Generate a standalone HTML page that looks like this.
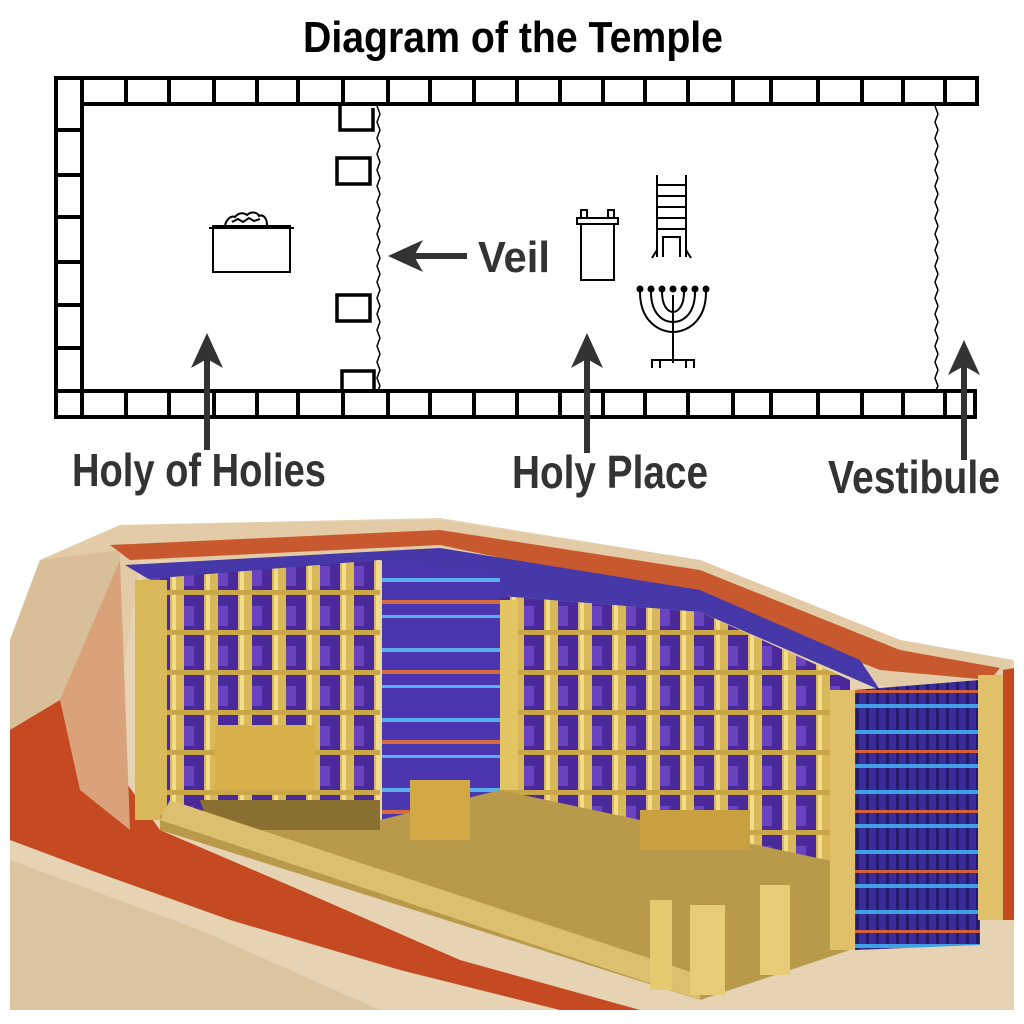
<!DOCTYPE html>
<html><head><meta charset="utf-8"><style>
html,body{margin:0;padding:0;background:#fff}
svg{display:block}
.t{font-family:"Liberation Sans Narrow","Liberation Sans",sans-serif;font-weight:bold}
</style></head><body>
<svg width="1024" height="1024" viewBox="0 0 1024 1024" xmlns="http://www.w3.org/2000/svg">
<defs>
<pattern id="grid" x="0" y="0" width="34" height="40" patternUnits="userSpaceOnUse">
<rect width="34" height="40" fill="#4a2a9a"/>
<rect x="0" y="0" width="14" height="40" fill="#d9b85a"/>
<rect x="2" y="0" width="4" height="40" fill="#f3dc8a"/>
<rect x="0" y="30" width="34" height="5" fill="#c9a648"/>
<rect x="14" y="6" width="10" height="20" fill="#6a44c0"/>
</pattern>
<pattern id="curt" x="0" y="0" width="10" height="60" patternUnits="userSpaceOnUse">
<rect width="10" height="60" fill="#3b2a9a"/>
<rect x="6" width="3" height="60" fill="#241a6a"/>
<rect y="10" width="10" height="4" fill="#3fa0e6"/>
<rect y="30" width="10" height="3" fill="#d0603a"/>
<rect y="44" width="10" height="4" fill="#3fa0e6"/>
</pattern>
<pattern id="veil" x="0" y="0" width="120" height="70" patternUnits="userSpaceOnUse">
<rect width="120" height="70" fill="#4b36b0"/>
<rect y="18" width="120" height="4" fill="#5ab0ee"/>
<rect y="40" width="120" height="4" fill="#d86a40"/>
<rect y="55" width="120" height="3" fill="#5ab0ee"/>
</pattern>
</defs>

<!-- Title -->
<text class="t" x="513" y="52" font-size="44" text-anchor="middle" textLength="420" lengthAdjust="spacingAndGlyphs" fill="#000">Diagram of the Temple</text>

<!-- walls -->
<g fill="#fff" stroke="#000" stroke-width="4">
<rect x="56" y="78" width="921" height="26"/>
<rect x="56" y="391" width="919" height="26"/>
<rect x="56" y="78" width="26" height="339"/>
</g>
<g stroke="#000" stroke-width="4">
<path d="M126 78v26M169 78v26M214 78v26M257 78v26M298 78v26M343 78v26M388 78v26M430 78v26M474 78v26M517 78v26M560 78v26M603 78v26M645 78v26M688 78v26M733 78v26M771 78v26M818 78v26M862 78v26M903 78v26M945 78v26"/>
<path d="M126 391v26M169 391v26M214 391v26M257 391v26M298 391v26M343 391v26M388 391v26M430 391v26M474 391v26M517 391v26M560 391v26M603 391v26M645 391v26M688 391v26M733 391v26M771 391v26M818 391v26M862 391v26M903 391v26M945 391v26"/>
<path d="M56 130h26M56 175h26M56 217h26M56 262h26M56 305h26M56 348h26M56 391h26"/>
</g>
<g fill="none" stroke="#000" stroke-width="3.5">
<path d="M373 108v22h-33v-24"/>
<rect x="337" y="158" width="33" height="26"/>
<rect x="337" y="295" width="33" height="26"/>
<path d="M342 391v-20h32v20"/>
</g>
<g fill="none" stroke="#000" stroke-width="1.5">
<path d="M377 106 l3 8 -3 8 3 8 -3 8 3 8 -3 8 3 8 -3 8 3 8 -3 8 3 8 -3 8 3 8 -3 8 3 8 -3 8 3 8 -3 8 3 8 -3 8 3 8 -3 8 3 8 -3 8 3 8 -3 8 3 8 -3 8 3 8 -3 8 3 8 -3 8 3 8 -3 8 3 8 -3 6"/>
<path d="M935 106 l3 8 -3 8 3 8 -3 8 3 8 -3 8 3 8 -3 8 3 8 -3 8 3 8 -3 8 3 8 -3 8 3 8 -3 8 3 8 -3 8 3 8 -3 8 3 8 -3 8 3 8 -3 8 3 8 -3 8 3 8 -3 8 3 8 -3 8 3 8 -3 8 3 8 -3 8 3 8 -3 6"/>
</g>
<g fill="none" stroke="#000" stroke-width="2">
<rect x="213" y="226" width="77" height="46"/>
<path d="M209 228h85" />
<path d="M225 225 c2-6 6-10 10-8 c3-4 8-5 12-2 c4-4 10-3 12 1 c4-2 8 2 8 9" />
<path d="M232 222 l6-3 5 3 6-4 5 3 6-2"/>
</g>
<g fill="none" stroke="#000" stroke-width="2">
<rect x="581" y="224" width="33" height="56"/>
<rect x="577" y="218" width="41" height="6"/>
<rect x="581" y="210" width="6" height="8"/><rect x="608" y="210" width="6" height="8"/>
</g>
<g fill="none" stroke="#000" stroke-width="2">
<path d="M657 175v82M686 175v82M657 185h29M657 196h29M657 207h29M657 218h29M657 229h29M663 257v-20h17v20M652 258l5-8M691 258l-5-8"/>
</g>
<g fill="none" stroke="#000" stroke-width="2">
<path d="M673 295v68M640 292c0 30 20 40 33 40c13 0 33-10 33-40M651 292c0 22 12 30 22 30c10 0 22-8 22-30M662 292c0 14 6 20 11 20c5 0 11-6 11-20"/>
<path d="M652 368v-8h42v8M660 360v8M686 360v8"/>
</g>
<g fill="#000">
<circle cx="640" cy="289" r="3.5"/><circle cx="651" cy="289" r="3.5"/><circle cx="662" cy="289" r="3.5"/><circle cx="673" cy="289" r="3.5"/><circle cx="684" cy="289" r="3.5"/><circle cx="695" cy="289" r="3.5"/><circle cx="706" cy="289" r="3.5"/>
</g>

<g fill="#333" stroke="#333">
<path d="M207 345v105" stroke-width="6"/><path d="M207 333l-16 35 16-9 16 9z" stroke="none"/>
<path d="M587 345v108" stroke-width="6"/><path d="M587 333l-16 35 16-9 16 9z" stroke="none"/>
<path d="M964 352v108" stroke-width="6"/><path d="M964 340l-16 35 16-9 16 9z" stroke="none"/>
<path d="M400 256h67" stroke-width="6"/><path d="M388 256l35-16-9 16 9 16z" stroke="none"/>
</g>
<text class="t" x="478" y="272" font-size="44" textLength="72" lengthAdjust="spacingAndGlyphs" fill="#333">Veil</text>
<text class="t" x="72" y="486" font-size="46" textLength="254" lengthAdjust="spacingAndGlyphs" fill="#333">Holy of Holies</text>
<text class="t" x="512" y="488" font-size="46" textLength="196" lengthAdjust="spacingAndGlyphs" fill="#333">Holy Place</text>
<text class="t" x="828" y="493" font-size="46" textLength="172" lengthAdjust="spacingAndGlyphs" fill="#333">Vestibule</text>

<!-- Illustration -->
<!-- base ground / body -->
<path d="M10 640 L40 560 L120 525 L440 518 L700 560 L900 640 L1014 660 L1014 1010 L10 1010 Z" fill="#e6d3b4"/>
<path d="M10 860 L10 1010 L380 1010 L200 930 Z" fill="#dcc4a0"/>
<!-- roof -->
<path d="M40 560 L120 525 L440 520 L700 560 L900 640 L1010 660 L1014 700 L880 685 L500 560 L140 560 L110 760 L130 830 L10 800 Z" fill="#e2cba6"/>
<path d="M10 640 L40 560 L120 550 L110 760 L10 800 Z" fill="#d8bf98"/>
<path d="M110 545 L440 530 L700 570 L900 650 L1000 668 L990 680 L880 670 L700 600 L440 545 L130 560 Z" fill="#c8582e"/>
<!-- red cloth -->
<path d="M10 730 L60 700 L110 760 L160 830 L300 890 L460 960 L640 1010 L560 1010 L400 970 L230 920 L90 870 L10 840 Z" fill="#c54a22"/>
<path d="M60 700 L120 560 L130 830 L80 790 Z" fill="#d9a27a"/>
<!-- ceiling band -->
<path d="M125 565 L440 548 L700 590 L860 660 L880 690 L700 612 L500 596 L380 560 L150 580 Z" fill="#4638a8"/>
<!-- back walls -->
<path d="M135 580 L380 560 L380 820 L160 820 Z" fill="url(#grid)"/>
<rect x="135" y="580" width="32" height="240" fill="#d9b85a"/>
<path d="M382 560 L500 575 L500 800 L382 820 Z" fill="url(#veil)"/>
<path d="M500 596 L700 612 L850 680 L850 870 L500 790 Z" fill="url(#grid)"/>
<rect x="500" y="600" width="18" height="190" fill="#e2c462"/>
<!-- floor -->
<path d="M160 815 L380 820 L500 790 L850 865 L850 950 L700 1000 L160 830 Z" fill="#b89a4a"/>
<path d="M200 800 L380 800 L380 830 L210 830 Z" fill="#8a7030"/>
<rect x="215" y="725" width="100" height="65" fill="#d8b04a"/>
<rect x="410" y="780" width="60" height="60" fill="#d2a844"/>
<rect x="640" y="810" width="110" height="40" fill="#c9a040"/>
<!-- front rail -->
<path d="M160 820 L700 1000 L700 975 L170 800 Z" fill="#dcc070"/>
<rect x="650" y="900" width="22" height="90" fill="#e6ca70"/>
<rect x="690" y="905" width="35" height="90" fill="#e8cc78"/>
<rect x="760" y="885" width="30" height="90" fill="#e8cc78"/>
<!-- vestibule curtain -->
<rect x="830" y="690" width="25" height="260" fill="#e0c068"/>
<path d="M855 690 L980 680 L980 945 L855 950 Z" fill="url(#curt)"/>
<rect x="978" y="675" width="25" height="245" fill="#e0c068"/>
<path d="M1003 670 L1014 668 L1014 920 L1003 920 Z" fill="#c54a22"/>
</svg>
</body></html>
